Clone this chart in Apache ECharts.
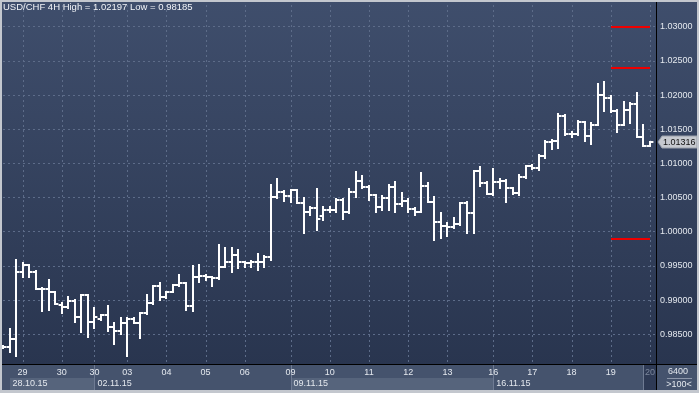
<!DOCTYPE html>
<html><head><meta charset="utf-8">
<script src="https://cdn.jsdelivr.net/npm/echarts@6/dist/echarts.min.js"></script>
<style>html,body{margin:0;padding:0;background:#c4c8cf;}#c{width:699px;height:393px;}</style>
</head><body><div id="c"></div>
<script>
const opens = [0.98313,0.98308,0.98426,0.99406,0.99517,0.99406,0.99166,0.99166,0.99113,0.98927,
0.98894,0.98990,0.98747,0.99074,0.98683,0.98723,0.98781,0.98610,0.98551,0.98660,
0.98718,0.98668,0.98806,0.98952,0.99206,0.99040,0.99122,0.99220,0.99245,0.98913,
0.99333,0.99352,0.99333,0.99318,0.99488,0.99561,0.99655,0.99557,0.99538,0.99557,
0.99557,0.99625,1.00503,1.00577,1.00522,1.00610,1.00416,1.00284,1.00342,1.00230,
1.00318,1.00318,1.00464,1.00293,1.00585,1.00746,1.00659,1.00537,1.00366,1.00489,
1.00659,1.00405,1.00454,1.00328,1.00293,1.00669,1.00439,1.00146,1.00083,1.00064,
1.00108,1.00424,1.00269,1.00888,1.00708,1.00547,1.00732,1.00746,1.00635,1.00571,
1.00796,1.00966,1.00928,1.01108,1.01317,1.01327,1.01698,1.01425,1.01425,1.01601,
1.01400,1.01561,1.02000,1.01952,1.01766,1.01561,1.01774,1.01872,1.01390,1.01258];
const highs = [0.98327,0.98572,0.99586,0.99546,0.99520,0.99429,0.99170,0.99293,0.99118,0.98952,
0.99049,0.99001,0.99074,0.99078,0.98879,0.98781,0.98913,0.98668,0.98733,0.98733,
0.98733,0.98806,0.99074,0.99206,0.99254,0.99122,0.99220,0.99366,0.99250,0.99498,
0.99513,0.99366,0.99342,0.99805,0.99757,0.99757,0.99732,0.99561,0.99576,0.99669,
0.99644,1.00683,1.00767,1.00600,1.00610,1.00615,1.00489,1.00357,1.00620,1.00366,
1.00361,1.00474,1.00474,1.00620,1.00878,1.00815,1.00665,1.00542,1.00522,1.00683,
1.00732,1.00562,1.00474,1.00342,1.00855,1.00708,1.00503,1.00269,1.00123,1.00196,
1.00424,1.00430,1.00888,1.00942,1.00732,1.00913,1.00767,1.00750,1.00640,1.00830,
1.00966,1.00976,1.01122,1.01327,1.01342,1.01718,1.01708,1.01463,1.01620,1.01610,
1.01586,1.02161,1.02197,1.01986,1.01781,1.01902,1.01879,1.02025,1.01561,1.01317];
const lows = [0.98298,0.98244,0.98181,0.99333,0.99333,0.99157,0.98844,0.98854,0.98942,0.98815,
0.98890,0.98683,0.98537,0.98455,0.98587,0.98708,0.98547,0.98352,0.98503,0.98185,
0.98660,0.98440,0.98796,0.98948,0.99001,0.99026,0.99113,0.99210,0.98854,0.98840,
0.99268,0.99293,0.99206,0.99310,0.99480,0.99415,0.99465,0.99488,0.99488,0.99440,
0.99488,0.99586,1.00489,1.00454,1.00439,1.00416,0.99977,1.00244,1.00025,1.00171,
1.00288,1.00293,1.00186,1.00269,1.00503,1.00635,1.00464,1.00284,1.00318,1.00318,
1.00293,1.00381,1.00284,1.00244,1.00288,1.00439,0.99879,0.99912,0.99937,1.00050,
1.00098,0.99985,0.99985,1.00669,1.00547,1.00540,1.00635,1.00439,1.00552,1.00537,
1.00781,1.00918,1.00903,1.01074,1.01210,1.01229,1.01415,1.01390,1.01420,1.01327,
1.01283,1.01555,1.01771,1.01756,1.01463,1.01555,1.01586,1.01380,1.01258,1.01258];
const closes = [0.98313,0.98426,0.99406,0.99517,0.99406,0.99166,0.99166,0.99113,0.98942,0.98894,
0.98990,0.98747,0.99074,0.98683,0.98756,0.98781,0.98601,0.98551,0.98660,0.98718,
0.98668,0.98806,0.98952,0.99206,0.99040,0.99122,0.99220,0.99245,0.98913,0.99333,
0.99352,0.99333,0.99318,0.99488,0.99561,0.99655,0.99557,0.99538,0.99557,0.99557,
0.99625,1.00503,1.00577,1.00522,1.00610,1.00416,1.00284,1.00342,1.00186,1.00318,
1.00318,1.00464,1.00293,1.00585,1.00746,1.00659,1.00537,1.00366,1.00489,1.00659,
1.00405,1.00454,1.00328,1.00293,1.00669,1.00439,1.00146,1.00083,1.00064,1.00108,
1.00424,1.00269,1.00888,1.00708,1.00547,1.00732,1.00746,1.00635,1.00571,1.00796,
1.00966,1.00928,1.01108,1.01317,1.01327,1.01698,1.01425,1.01425,1.01601,1.01400,
1.01561,1.02000,1.01952,1.01766,1.01561,1.01774,1.01872,1.01390,1.01258,1.01316];
const dayIdx = [3,9,14,19,25,31,37,44,50,56,62,68,75,81,87,93,99];
const dayLabels = ['29','30','30','03','04','05','06','09','10','11','12','13','16','17','18','19','20'];
const weekIdx = [1,14,44,75];
const weekLabels = ['28.10.15','02.11.15','09.11.15','16.11.15'];
const levels = [1.0300,1.0240,0.9990];
const levelFrom = 93, levelTo = 99;
const titleText = 'USD/CHF 4H High = 1.02197 Low = 0.98185';
const barCountText = '6400', zoomText = '>100<';

const FONT = '"Liberation Sans", Arial, sans-serif';
const GRIDC = '#5d6c89';
const chart = echarts.init(document.getElementById('c'), null, {renderer:'canvas'});
const ohlc = opens.map((o,i)=>[i,o,highs[i],lows[i],closes[i]]);
const last = closes[closes.length-1];
const xmax = 99.92;

const option = {
  animation:false,
  title:{text:titleText,left:3,top:2,padding:0,textStyle:{color:'#f2f4f8',fontSize:9.5,fontWeight:'normal',fontFamily:FONT}},
  grid:{left:3,right:43,top:0,bottom:24.62},
  xAxis:[
    {type:'value',min:0,max:xmax,position:'bottom',axisLine:{show:false,onZero:false},axisTick:{show:false},axisLabel:{show:false},splitLine:{show:false}},
    {type:'value',min:0,max:xmax,position:'bottom',z:60,axisLine:{show:false,onZero:false},axisTick:{show:false},splitLine:{show:false},
      axisLabel:{customValues:dayIdx,margin:-1,color:'#e4e8ee',fontSize:9,fontFamily:FONT,lineHeight:11,
        formatter:v=>{const k=dayIdx.indexOf(v);return k===dayIdx.length-1?'{g|'+dayLabels[k]+'}':dayLabels[k];},
        rich:{g:{color:'#7c879d',fontSize:9,fontFamily:FONT}}}},
    {type:'value',min:0,max:xmax,position:'bottom',z:60,axisLine:{show:false,onZero:false},axisTick:{show:false},splitLine:{show:false},
      axisLabel:{customValues:weekIdx,margin:10,align:'left',padding:[0,0,0,3],color:'#e4e8ee',fontSize:9,fontFamily:FONT,lineHeight:11,
        formatter:v=>weekLabels[weekIdx.indexOf(v)]}}
  ],
  yAxis:{type:'value',min:0.98,max:1.033904,interval:0.005,position:'right',
    axisLine:{show:false,onZero:false},axisTick:{show:false},
    axisLabel:{margin:4,color:'#e4e8ee',fontSize:9,fontFamily:FONT,formatter:v=>v.toFixed(5),showMinLabel:false,showMaxLabel:false},
    splitLine:{show:true,lineStyle:{color:GRIDC,type:[2,3],width:1}}},
  series:[
    {type:'custom',name:'dayGrid',z:1,silent:true,data:dayIdx.map(i=>[i,1.0]),
      renderItem:(p,api)=>{const x=Math.round(api.coord([api.value(0),api.value(1)])[0])+0.5;const cs=p.coordSys;
        return {type:'line',shape:{x1:x,y1:cs.y,x2:x,y2:cs.y+cs.height},style:{stroke:GRIDC,lineWidth:1,lineDash:[2,3]}};}},
    {type:'custom',name:'USD/CHF',z:3,silent:true,data:ohlc,encode:{x:0,y:[1,2,3,4]},
      renderItem:(p,api)=>{const i=api.value(0);
        const pO=api.coord([i,api.value(1)]),pH=api.coord([i,api.value(2)]),pL=api.coord([i,api.value(3)]),pC=api.coord([i,api.value(4)]);
        const x=Math.round(pO[0]);const w=3.4;const st={stroke:'#ffffff',lineWidth:2};
        const yo=Math.round(pO[1]),yc=Math.round(pC[1]);
        return {type:'group',children:[
          {type:'line',shape:{x1:x,y1:Math.round(pH[1])-1,x2:x,y2:Math.round(pL[1])+1},style:st},
          {type:'line',shape:{x1:x-w,y1:yo,x2:x,y2:yo},style:st},
          {type:'line',shape:{x1:x,y1:yc,x2:x+w,y2:yc},style:st}]};}},
    {type:'custom',name:'levels',z:4,silent:true,data:levels.map(v=>[levelFrom,levelTo,v]),
      renderItem:(p,api)=>{const a=api.coord([api.value(0),api.value(2)]),b=api.coord([api.value(1),api.value(2)]);const y=Math.round(a[1]);
        return {type:'line',shape:{x1:Math.round(a[0]),y1:y,x2:Math.round(b[0]),y2:y},style:{stroke:'#ee0000',lineWidth:2}};}},
    {type:'custom',name:'last',z:55,silent:true,clip:false,data:[[closes.length-1,last]],
      renderItem:(p,api)=>{const y=Math.round(api.coord([api.value(0),api.value(1)])[1]);const x0=p.coordSys.x+p.coordSys.width;
        return {type:'group',children:[
          {type:'polygon',shape:{points:[[x0+2,y],[x0+6,y-6],[x0+41,y-6],[x0+41,y+6],[x0+6,y+6]]},style:{fill:'#c6c9cf',stroke:'#9aa0ab',lineWidth:1}},
          {type:'text',style:{text:api.value(1).toFixed(5),x:x0+7,y:y+0.5,verticalAlign:'middle',fill:'#111111',font:'9px '+FONT}}]};}}
  ]
};
chart.setOption(option);

const px = i => chart.convertToPixel({xAxisIndex:0}, i);
const els = [];
els.push({type:'rect',z:-100,shape:{x:0,y:0,width:699,height:365},style:{fill:new echarts.graphic.LinearGradient(0,0,0,1,[{offset:0,color:'#3f4e6c'},{offset:1,color:'#29354f'}])}});
els.push({type:'rect',z:40,shape:{x:0,y:365,width:699,height:26},style:{fill:'#45536d'}});
for (let k=0;k<weekIdx.length;k+=2){
  const a=Math.round(px(weekIdx[k])), b=Math.round(px(weekIdx[k+1]));
  els.push({type:'rect',z:41,shape:{x:a,y:378,width:b-a,height:12},style:{fill:'#56647c'}});
}
for (let k=1;k<weekIdx.length;k++){
  const a=Math.round(px(weekIdx[k]))+0.5;
  els.push({type:'line',z:42,shape:{x1:a,y1:365,x2:a,y2:390},style:{stroke:'#6f7b93',lineWidth:1}});
}
const lastBoxX=Math.round(px(98));
els.push({type:'rect',z:41,shape:{x:lastBoxX,y:365,width:656-lastBoxX,height:25},style:{fill:'#2e3a55'}});
els.push({type:'line',z:42,shape:{x1:lastBoxX+0.5,y1:365,x2:lastBoxX+0.5,y2:390},style:{stroke:'#6f7b93',lineWidth:1}});
els.push({type:'rect',z:70,shape:{x:0,y:364,width:699,height:1},style:{fill:'#000'}});
els.push({type:'rect',z:70,shape:{x:656,y:0,width:1,height:390},style:{fill:'#000'}});
els.push({type:'rect',z:80,shape:{x:0,y:0,width:699,height:2},style:{fill:'#c3c7ce'}});
els.push({type:'rect',z:80,shape:{x:0,y:0,width:2,height:393},style:{fill:'#c3c7ce'}});
els.push({type:'rect',z:80,shape:{x:0,y:390,width:699,height:3},style:{fill:'#c3c7ce'}});
els.push({type:'rect',z:80,shape:{x:697,y:0,width:2,height:393},style:{fill:'#c3c7ce'}});
els.push({type:'text',z:80,style:{text:barCountText,x:678,y:372,align:'center',verticalAlign:'middle',fill:'#e4e8ee',font:'9px '+FONT}});
els.push({type:'line',z:80,shape:{x1:667,y1:378.5,x2:692,y2:378.5},style:{stroke:'#8d97aa',lineWidth:1}});
els.push({type:'text',z:80,style:{text:zoomText,x:679,y:384.5,align:'center',verticalAlign:'middle',fill:'#e4e8ee',font:'9px '+FONT}});
chart.setOption({graphic:{elements:els}});
</script></body></html>
